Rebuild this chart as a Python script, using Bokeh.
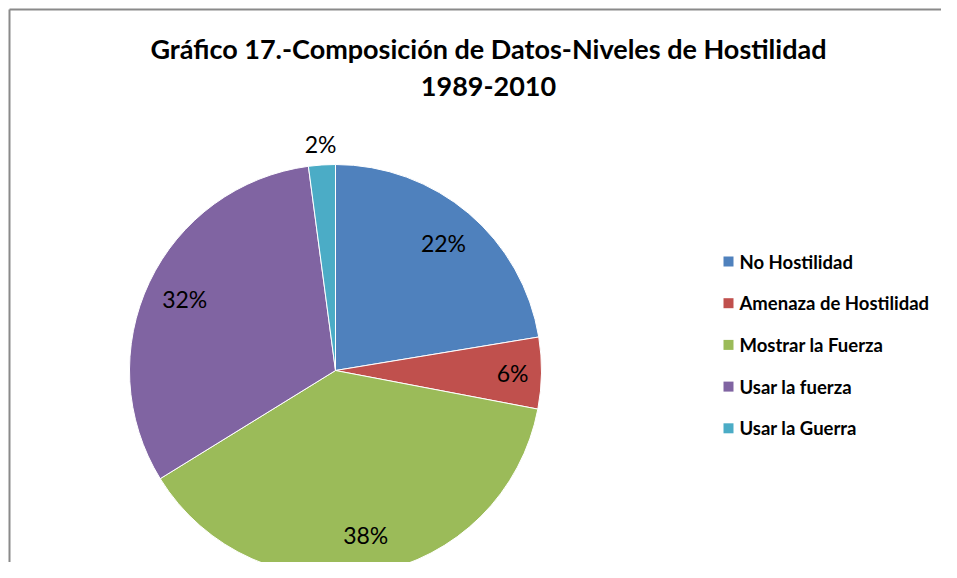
import math
from bokeh.plotting import figure
from bokeh.models import Range1d, ColumnDataSource
from bokeh.core.properties import value
from bokeh.embed import file_html
from bokeh.resources import INLINE

# ---- data ----
categories = ["No Hostilidad", "Amenaza de Hostilidad", "Mostrar la Fuerza",
              "Usar la fuerza", "Usar la Guerra"]
shares = [22.4, 5.6, 38.2, 31.7, 2.1]
pct_labels = ["22%", "6%", "38%", "32%", "2%"]
colors = ["#4F81BD", "#C0504D", "#9BBB59", "#8064A2", "#4BACC6"]
title_lines = ["Gráfico 17.-Composición de Datos-Niveles de Hostilidad", "1989-2010"]

W, H = 941, 562
# data coords: x = image x, y = 578 - image y
def sy(y):
    return 578 - y

p = figure(width=W, height=H, output_backend="svg", toolbar_location=None,
           x_range=Range1d(0, W), y_range=Range1d(578 - H, 578),
           min_border=0)
p.axis.visible = False
p.grid.visible = False
p.outline_line_color = None
p.background_fill_color = "white"

# outer chart border (left & top visible)
p.segment(x0=[9, 9], y0=[sy(9), sy(9)], x1=[990, 9], y1=[sy(9), sy(600)],
          line_color="#8a8a8a", line_width=2)

# pie
cx, cy, R = 335, sy(370), 206
total = sum(shares)
starts, ends, mids = [], [], []
cum = 0.0
for s in shares:
    a0 = math.pi / 2 - 2 * math.pi * cum / total
    cum += s
    a1 = math.pi / 2 - 2 * math.pi * cum / total
    starts.append(a0)
    ends.append(a1)
    mids.append((a0 + a1) / 2)

src = ColumnDataSource(dict(start=starts, end=ends, color=colors))
p.wedge(x=cx, y=cy, radius=R, start_angle="start", end_angle="end",
        direction="clock", fill_color="color", line_color="white",
        line_width=1, source=src)

# percentage labels
lx, ly = [], []
for i, m in enumerate(mids):
    frac = shares[i] / total
    f = 1.1 if frac < 0.04 else (0.86 if frac < 0.1 else 0.81)
    lx.append(cx + f * R * math.cos(m))
    ly.append(cy + f * R * math.sin(m))
p.text(x=lx, y=ly, text=pct_labels, text_align="center", text_baseline="middle",
       text_font=value("Lato"), text_font_size="23px", text_color="#000000")

# title
p.text(x=[488, 488], y=[sy(48), sy(86)], text=title_lines, text_align="center",
       text_baseline="middle", text_font=value("Lato"), text_font_style="bold",
       text_font_size="27px", text_color="#000000")

# legend
leg_y = [sy(261 + 41.7 * i) for i in range(len(categories))]
p.rect(x=[728] * len(categories), y=leg_y, width=10, height=10,
       fill_color=colors, line_color=None)
p.text(x=[739] * len(categories), y=leg_y, text=categories, text_align="left",
       text_baseline="middle", text_font=value("Lato"), text_font_style="bold",
       text_font_size="18.5px", text_color="#000000")

open("out.html", "w").write(file_html(p, INLINE))
